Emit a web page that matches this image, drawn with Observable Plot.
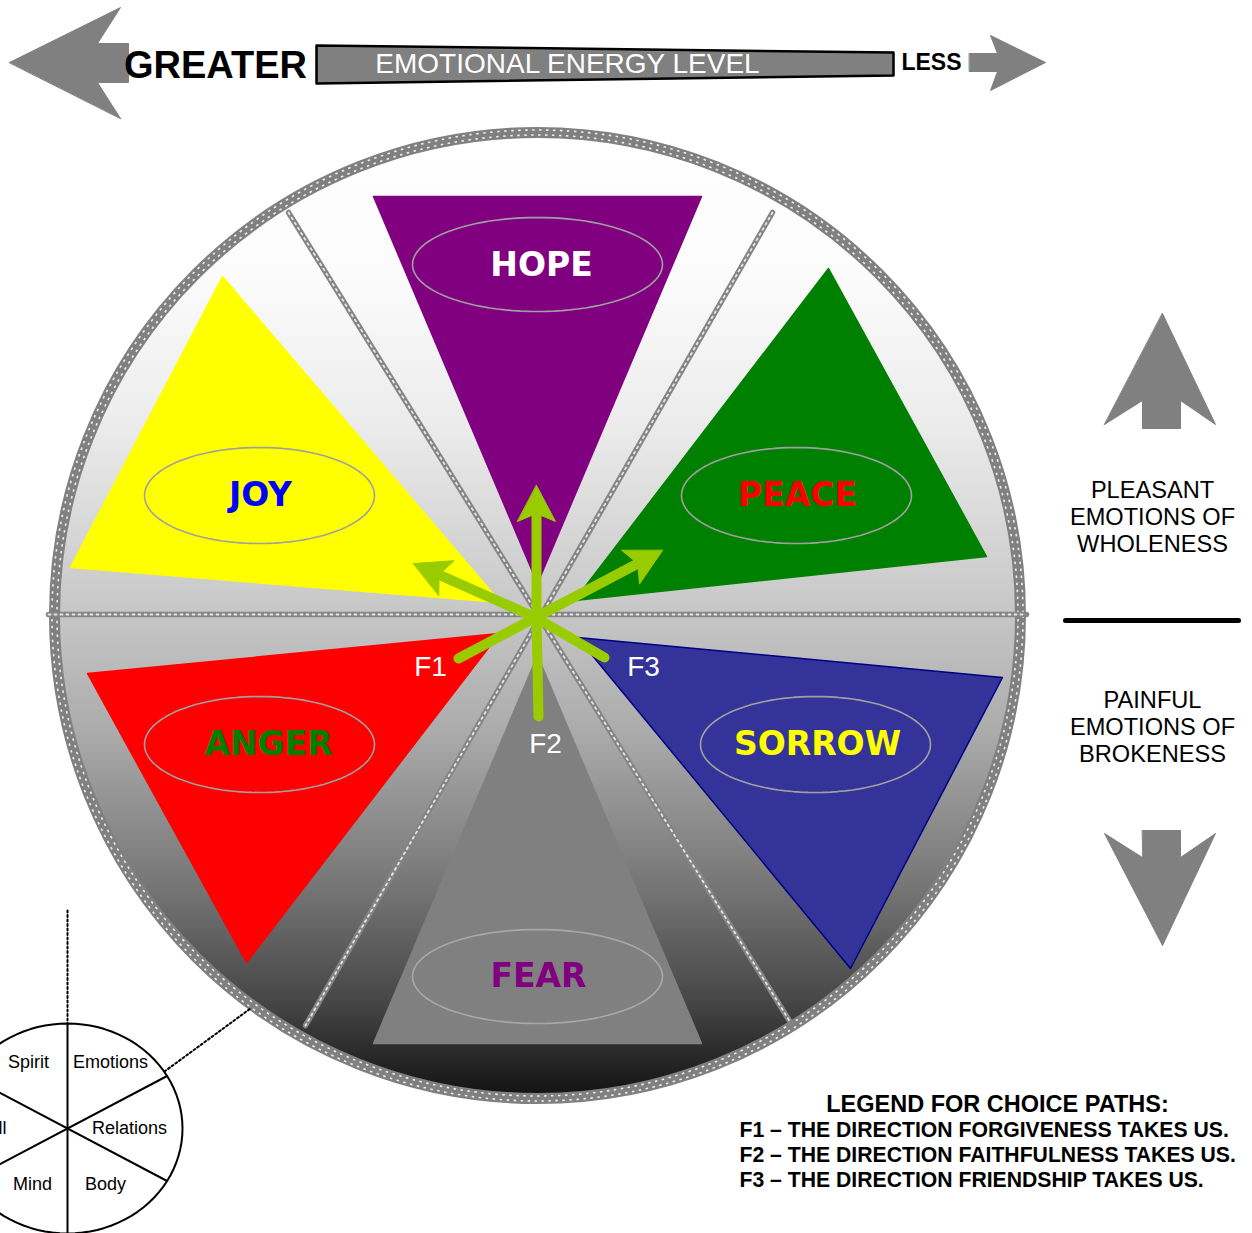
<!DOCTYPE html>
<html><head><meta charset="utf-8">
<script src="https://cdn.jsdelivr.net/npm/d3@7"></script>
<script src="https://cdn.jsdelivr.net/npm/@observablehq/plot@0.6"></script>
<style>html,body{margin:0;padding:0;background:#fff} #chart svg{display:block}</style>
</head><body><div id="chart"></div>
<script>
const W = 1252, H = 1233;

// ---- wheel ----
const wheel = [{cx: 537, cy: 615}];
const wheelRadius = 483;
const spokes = [
  {id: "h", pts: [[48, 614], [1026, 614]]},
  {id: "a", pts: [[288, 212], [790, 1022]]},
  {id: "b", pts: [[772, 212], [305, 1025]]}
];

// ---- emotions ----
const emotions = ["HOPE", "PEACE", "SORROW", "FEAR", "ANGER", "JOY"];
const triangleFill = ["#800080", "#008000", "#333399", "#808080", "#ff0000", "#ffff00"];
const triangleStroke = ["#800080", "#008000", "#000080", "#808080", "#ff0000", "#ffff00"];
const triangleVertices = [
  [[373, 196], [701, 196], [537, 583]],
  [[828, 268], [986, 556], [574, 600]],
  [[1002, 677], [850, 968], [577, 637]],
  [[373, 1043], [701, 1043], [537, 655]],
  [[87, 673], [246, 962], [499, 633]],
  [[222, 276], [70, 567], [500, 602]]
];
const labelColor = ["#ffffff", "#ff0000", "#ffff00", "#800080", "#008000", "#0000ff"];
const labelPos = [[541, 265], [797, 495], [817, 744], [538, 976], [268, 744], [260, 495]];
const ellipseCenter = [[537, 264], [796, 495], [815, 744], [537, 976], [259, 744], [259, 495]];
const ellipseRadii = [[125, 47], [115, 48], [115, 48], [125, 47], [115, 48], [115, 48]];
const ellipseStroke = ["#a0a0a0", "#a0a0a0", "#a0a0a0", "#a8a8a8", "#a0a0a0", "#a0a0a0"];

// ---- choice paths ----
const paths = ["F1", "F2", "F3"];
const pathPoints = [
  [[458, 658], [535, 617], [413, 563]],
  [[538, 716], [536, 617], [536, 485]],
  [[604, 657], [535, 617], [662, 550]]
];
const pathLabels = [[430, 667], [545, 744], [643, 667]];

// ---- header ----
const leftArrow = [[9, 62], [120, 7], [97, 43], [128, 43], [128, 82], [97, 82], [120, 118]];
const rightArrow = [[969, 53], [997, 53], [990, 35], [1045, 62], [990, 90], [997, 71], [969, 71]];
const energyBar = [[316, 45], [893, 52], [893, 75], [316, 83]];

// ---- side ----
const upArrow = [[1162, 313], [1215, 424], [1180, 400], [1180, 428], [1142, 428], [1142, 400], [1104, 424]];
const downArrow = [[1142, 830], [1180, 830], [1180, 857], [1215, 833], [1162, 945], [1104, 833], [1142, 857]];
const pleasantLines = ["PLEASANT", "EMOTIONS OF", "WHOLENESS"];
const painfulLines = ["PAINFUL", "EMOTIONS OF", "BROKENESS"];

// ---- legend ----
const legendTitle = "LEGEND FOR CHOICE PATHS:";
const legendLines = [
  "F1 \u2013 THE DIRECTION FORGIVENESS TAKES US.",
  "F2 \u2013 THE DIRECTION FAITHFULNESS TAKES US.",
  "F3 \u2013 THE DIRECTION FRIENDSHIP TAKES US."
];

// ---- small circle (life areas) ----
const smallCircle = {cx: 67, cy: 1128, rx: 115, ry: 105};
const smallAngles = [30, -30];
const smallLabels = ["Spirit", "Emotions", "Will", "Relations", "Mind", "Body"];
const smallLabelPos = [[28, 1062], [110, 1062], [6, 1128], [129, 1128], [32, 1184], [105, 1184]];
const smallAnchor = ["middle", "middle", "end", "middle", "middle", "middle"];
const dottedLines = [
  {id: "v", pts: [[67, 910], [67, 1023]]},
  {id: "d", pts: [[164, 1071], [250, 1008]]}
];

// ===== build tables =====
const poly = (name, pts, extra = {}) => pts.map(([x, y]) => ({name, x, y, ...extra}));
const ellipsePts = (name, cx, cy, rx, ry, extra = {}) => d3.range(0, 97).map(k => {
  const t = (k / 96) * 2 * Math.PI;
  return {name, x: cx + rx * Math.cos(t), y: cy + ry * Math.sin(t), ...extra};
});
const triRows = emotions.flatMap((e, i) => poly(e, triangleVertices[i], {fill: triangleFill[i], stroke: triangleStroke[i]}));
const ellRows = emotions.flatMap((e, i) => ellipsePts(e, ellipseCenter[i][0], ellipseCenter[i][1], ellipseRadii[i][0], ellipseRadii[i][1], {stroke: ellipseStroke[i]}));
const labelRows = emotions.map((e, i) => ({text: e, x: labelPos[i][0], y: labelPos[i][1], fill: labelColor[i]}));
const spokeRows = spokes.flatMap(s => poly(s.id, s.pts));

const headLen = 36, headHalf = 19, notch = 28;
const shaftRows = [], headRows = [];
paths.forEach((p, i) => {
  const pts = pathPoints[i];
  const [bx, by] = pts[pts.length - 2], [tx, ty] = pts[pts.length - 1];
  const len = Math.hypot(tx - bx, ty - by), ux = (tx - bx) / len, uy = (ty - by) / len;
  const nx = -uy, ny = ux;
  pts.slice(0, -1).forEach(([x, y]) => shaftRows.push({name: p, x, y}));
  shaftRows.push({name: p, x: tx - (notch + 2) * ux, y: ty - (notch + 2) * uy});
  const baseX = tx - headLen * ux, baseY = ty - headLen * uy;
  headRows.push(...poly(p, [[tx, ty], [baseX + headHalf * nx, baseY + headHalf * ny], [tx - notch * ux, ty - notch * uy], [baseX - headHalf * nx, baseY - headHalf * ny]]));
});
const pathLabelRows = paths.map((p, i) => ({text: p, x: pathLabels[i][0], y: pathLabels[i][1]}));

const greyShapes = [...poly("left", leftArrow), ...poly("right", rightArrow), ...poly("up", upArrow), ...poly("down", downArrow)];

const sideText = [
  ...pleasantLines.map((t, i) => ({text: t, x: 1152, y: 490 + i * 27})),
  ...painfulLines.map((t, i) => ({text: t, x: 1152, y: 700 + i * 27}))
];
const legendRows = legendLines.map((t, i) => ({text: t, x: 739, y: 1130 + i * 25}));

const smallSegs = [
  {name: "v", x: smallCircle.cx, y: smallCircle.cy - smallCircle.ry},
  {name: "v", x: smallCircle.cx, y: H + 10},
  ...smallAngles.flatMap((a, i) => {
    const t = a * Math.PI / 180;
    const dx = smallCircle.rx * Math.cos(t), dy = smallCircle.ry * Math.sin(t);
    return [{name: "s" + i, x: smallCircle.cx - dx, y: smallCircle.cy + dy}, {name: "s" + i, x: smallCircle.cx + dx, y: smallCircle.cy - dy}];
  })
];
const smallRing = ellipsePts("ring", smallCircle.cx, smallCircle.cy, smallCircle.rx, smallCircle.ry);
const smallLabelRows = smallLabels.map((t, i) => ({text: t, x: smallLabelPos[i][0], y: smallLabelPos[i][1], anchor: smallAnchor[i]}));
const dottedRows = dottedLines.flatMap(s => poly(s.id, s.pts));

const sans = "'Liberation Sans', Arial, sans-serif";
const fun = "'DejaVu Sans', sans-serif";

const defs = () => {
  const ns = "http://www.w3.org/2000/svg";
  const d = document.createElementNS(ns, "defs");
  const g = document.createElementNS(ns, "linearGradient");
  g.setAttribute("id", "wheelGrad");
  g.setAttribute("x1", "0"); g.setAttribute("y1", "0"); g.setAttribute("x2", "0"); g.setAttribute("y2", "1");
  [[0, "#ffffff"], [0.15, "#fbfbfb"], [0.3, "#ececec"], [0.5, "#c6c6c6"], [0.62, "#ababab"], [0.78, "#767676"], [0.9, "#464646"], [1, "#111111"]]
    .forEach(([o, c]) => {
      const s = document.createElementNS(ns, "stop");
      s.setAttribute("offset", o); s.setAttribute("stop-color", c);
      g.appendChild(s);
    });
  d.appendChild(g);
  return d;
};

const chart = Plot.plot({
  width: W, height: H, margin: 0,
  x: {domain: [0, W], axis: null},
  y: {domain: [0, H], reverse: true, axis: null},
  color: {type: "identity"},
  style: {background: "white", overflow: "hidden"},
  marks: [
    defs,
    // wheel background and chain ring
    Plot.dot(wheel, {x: "cx", y: "cy", r: wheelRadius, fill: "url(#wheelGrad)", stroke: "#808080", strokeWidth: 11}),
    Plot.dot(wheel, {x: "cx", y: "cy", r: wheelRadius + 2.5, fill: "none", stroke: "#eeeeee", strokeWidth: 1.6, strokeDasharray: "2.5,4.5"}),
    Plot.dot(wheel, {x: "cx", y: "cy", r: wheelRadius - 2.5, fill: "none", stroke: "#eeeeee", strokeWidth: 1.6, strokeDasharray: "2.5,4.5", strokeDashoffset: 3.5}),
    // spokes
    Plot.line(spokeRows, {x: "x", y: "y", z: "name", stroke: "#858585", strokeWidth: 5.5}),
    Plot.line(spokeRows, {x: "x", y: "y", z: "name", stroke: "#e6e6e6", strokeWidth: 1.8, strokeDasharray: "2,4"}),
    // triangles
    Plot.line(triRows, {x: "x", y: "y", z: "name", fill: "fill", stroke: "stroke", strokeWidth: 1.5, curve: "linear-closed"}),
    // ellipses
    Plot.line(ellRows, {x: "x", y: "y", z: "name", stroke: "stroke", strokeWidth: 1.6, curve: "linear-closed"}),
    // emotion labels
    Plot.text(labelRows, {x: "x", y: "y", text: "text", fill: "fill", fontFamily: fun, fontWeight: "bold", fontSize: 33}),
    // choice paths
    Plot.line(shaftRows, {x: "x", y: "y", z: "name", stroke: "#99cc00", strokeWidth: 10, strokeLinejoin: "miter"}),
    Plot.line(headRows, {x: "x", y: "y", z: "name", fill: "#99cc00", stroke: "#99cc00", strokeWidth: 1, curve: "linear-closed"}),
    Plot.text(pathLabelRows, {x: "x", y: "y", text: "text", fill: "white", fontFamily: sans, fontSize: 28}),
    // header
    Plot.line(greyShapes, {x: "x", y: "y", z: "name", fill: "#808080", stroke: "#808080", strokeWidth: 1, curve: "linear-closed"}),
    Plot.line(poly("bar", energyBar), {x: "x", y: "y", fill: "#808080", stroke: "black", strokeWidth: 2.5, curve: "linear-closed"}),
    Plot.text(["GREATER"], {x: 215, y: 65, text: d => d, fontFamily: sans, fontWeight: "bold", fontSize: 38, fill: "black"}),
    Plot.text(["EMOTIONAL ENERGY LEVEL"], {x: 567, y: 64, text: d => d, fontFamily: sans, fontSize: 28, fill: "white"}),
    Plot.text(["LESS"], {x: 931, y: 62, text: d => d, fontFamily: sans, fontWeight: "bold", fontSize: 23, fill: "black"}),
    // side
    Plot.text(sideText, {x: "x", y: "y", text: "text", fontFamily: sans, fontSize: 23.6, fill: "black"}),
    Plot.line(poly("div", [[1065, 620], [1238, 620]]), {x: "x", y: "y", stroke: "black", strokeWidth: 5}),
    // legend
    Plot.text([legendTitle], {x: 997, y: 1104, text: d => d, fontFamily: sans, fontWeight: "bold", fontSize: 23.5, fill: "black"}),
    Plot.text(legendRows, {x: "x", y: "y", text: "text", textAnchor: "start", fontFamily: sans, fontWeight: "bold", fontSize: 21.2, fill: "black"}),
    // small circle
    Plot.line(smallRing, {x: "x", y: "y", fill: "white", stroke: "black", strokeWidth: 2, curve: "linear-closed"}),
    Plot.line(smallSegs, {x: "x", y: "y", z: "name", stroke: "black", strokeWidth: 2}),
    Plot.line(dottedRows, {x: "x", y: "y", z: "name", stroke: "black", strokeWidth: 2, strokeDasharray: "2,2.5"}),
    Plot.text(smallLabelRows, {x: "x", y: "y", text: "text", textAnchor: "middle", fontFamily: sans, fontSize: 18, fill: "black", filter: d => d.anchor === "middle"}),
    Plot.text(smallLabelRows, {x: "x", y: "y", text: "text", textAnchor: "end", fontFamily: sans, fontSize: 18, fill: "black", filter: d => d.anchor === "end"})
  ]
});
document.getElementById("chart").appendChild(chart);
</script>
</body></html>
